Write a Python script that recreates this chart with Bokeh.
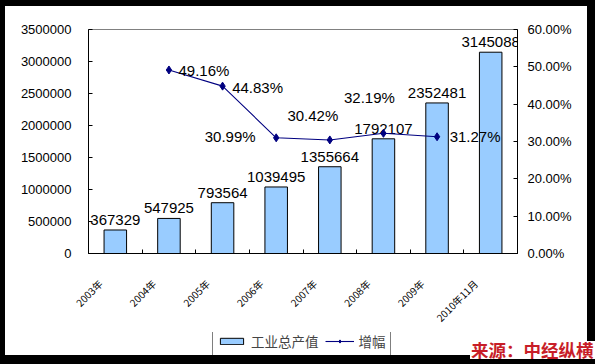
from bokeh.plotting import figure
from bokeh.layouts import column
from bokeh.models import (Range1d, LinearAxis, FixedTicker, PrintfTickFormatter,
                          Legend, LegendItem, Div, InlineStyleSheet)
from bokeh.core.properties import value
from bokeh.embed import file_html
from bokeh.resources import INLINE

# ---- data ----
categories = ["2003年", "2004年", "2005年", "2006年", "2007年", "2008年", "2009年", "2010年11月"]
output_value = [367329, 547925, 793564, 1039495, 1355664, 1792107, 2352481, 3145088]
growth_categories = ["2004年", "2005年", "2006年", "2007年", "2008年", "2009年"]
growth_pct = [49.16, 44.83, 30.99, 30.42, 32.19, 31.27]
left_ticks = [0, 500000, 1000000, 1500000, 2000000, 2500000, 3000000, 3500000]
right_ticks = [0, 10, 20, 30, 40, 50, 60]
series_names = ["工业总产值", "增幅"]
source_text = "来源：中经纵横"

# ---- styling / placement ----
pct_dx = [35, 35, -46, -17, -14, 38]
pct_dy = [1, 1, -1, -24, -36, 0]
label_shift = 0.28
FONT = "Liberation Sans"
CJK = "Noto Sans CJK SC"
BAR_FILL = "#99CCFF"
NAVY = "#000080"
W, H = 595, 364
BL, BR = 88, 78          # left / right borders (frame 88..517)
H_STRIP = 38

xpos = [categories.index(c) + 0.5 for c in categories]
gx = [categories.index(c) + 0.5 for c in growth_categories]

p = figure(frame_width=W - BL - BR, frame_height=224,
           min_border_left=BL, min_border_right=BR, min_border_top=29, min_border_bottom=73,
           x_range=Range1d(0, len(categories)), y_range=Range1d(left_ticks[0], left_ticks[-1]),
           output_backend="svg", toolbar_location=None, tools="")
p.extra_y_ranges = {"pct": Range1d(right_ticks[0], right_ticks[-1])}
p.background_fill_color = "white"
p.border_fill_color = "white"
p.outline_line_color = "#808080"
p.outline_line_width = 1
p.xgrid.visible = False
p.ygrid.visible = False
# black picture frame round the whole page
p.stylesheets = [InlineStyleSheet(css=(
    ":host::after { content: ''; position: absolute; left: 0; top: 0; "
    "width: %dpx; height: %dpx; box-sizing: border-box; pointer-events: none; "
    "border-style: solid; border-color: #000; border-width: 6px 8px 9px 5px; z-index: 10; }"
    % (W, H)))]

ya = p.yaxis[0]
ya.ticker = FixedTicker(ticks=left_ticks)
ya.formatter = PrintfTickFormatter(format="%d")
ya.axis_line_color = "black"
ya.major_tick_in = 4
ya.major_tick_out = 0
ya.minor_tick_line_color = None
ya.major_label_standoff = 17
ya.major_label_text_font = FONT
ya.major_label_text_font_size = "13px"
ya.major_label_text_color = "#000000"

ra = LinearAxis(y_range_name="pct", ticker=FixedTicker(ticks=right_ticks),
                formatter=PrintfTickFormatter(format="%.2f%%"))
ra.axis_line_color = "black"
ra.major_tick_in = 4
ra.major_tick_out = 0
ra.minor_tick_line_color = None
ra.major_label_standoff = 10
ra.major_label_text_font = FONT
ra.major_label_text_font_size = "13px"
ra.major_label_text_color = "#000000"
p.add_layout(ra, "right")

label_pos = [x - label_shift for x in xpos]
xa = p.xaxis[0]
xa.ticker = FixedTicker(ticks=label_pos, minor_ticks=list(range(len(categories) + 1)))
xa.major_label_overrides = {x: c for x, c in zip(label_pos, categories)}
xa.major_tick_line_color = None
xa.minor_tick_in = 4
xa.minor_tick_out = 0
xa.minor_tick_line_color = "black"
xa.axis_line_color = "black"
xa.major_label_orientation = 0.785398
xa.major_label_text_font = CJK
xa.major_label_text_font_size = "10px"
xa.major_label_text_color = "#000000"
xa.major_label_standoff = 22

p.vbar(x=xpos, top=output_value, width=0.42, fill_color=BAR_FILL,
       line_color="black", line_width=1)
p.text(x=xpos, y=output_value, text=[str(v) for v in output_value],
       text_align="center", text_baseline="alphabetic", y_offset=-10,
       text_font=value(FONT), text_font_size="15px", text_color="black")
p.line(x=gx, y=growth_pct, y_range_name="pct", line_color=NAVY, line_width=1.1)
p.scatter(x=gx, y=growth_pct, y_range_name="pct", marker="diamond", size=8,
          fill_color=NAVY, line_color=NAVY)
p.text(x=gx, y=growth_pct, y_range_name="pct", text=["%.2f%%" % g for g in growth_pct],
       x_offset=pct_dx, y_offset=pct_dy, text_align="center", text_baseline="middle",
       text_font=value(FONT), text_font_size="15px", text_color="black")

# ---- bottom strip: legend (data units = page pixels) ----
s = figure(frame_width=W - BL - BR, frame_height=H_STRIP,
           min_border_left=BL, min_border_right=BR, min_border_top=0, min_border_bottom=0,
           x_range=Range1d(BL, W - BR), y_range=Range1d(0, H_STRIP),
           x_axis_location=None, y_axis_location=None, output_backend="svg",
           toolbar_location=None, tools="")
s.outline_line_color = None
s.xgrid.visible = False
s.ygrid.visible = False
s.background_fill_color = "white"
s.border_fill_color = "white"

# legend swatch renderers (kept outside the visible range)
lb = s.vbar(x=[-1000], top=[-1000], width=1, fill_color=BAR_FILL, line_color="black", line_width=1)
ll = s.line(x=[-1000, -999], y=[-1000, -1000], line_color=NAVY, line_width=1.1)
lp = s.scatter(x=[-1000], y=[-1000], marker="diamond", size=8, fill_color=NAVY, line_color=NAVY)

legend = Legend(items=[LegendItem(label=series_names[0], renderers=[lb]),
                       LegendItem(label=series_names[1], renderers=[ll, lp])],
                orientation="horizontal", location=(212 - BL, 14),
                border_line_color="black", border_line_width=1,
                label_text_font=CJK, label_text_font_size="13.5px",
                glyph_width=29, glyph_height=8, padding=4, spacing=6,
                label_standoff=5, margin=0, label_height=14)
s.add_layout(legend)

# source note, placed over the lower-right corner of the picture frame
src = Div(text=source_text, styles={
    "position": "absolute", "left": "470px", "top": "341px", "margin": "0",
    "z-index": "20", "white-space": "nowrap", "line-height": "1",
    "font-family": CJK, "font-size": "17.5px", "font-weight": "bold",
    "color": "#C81E28", "background-color": "white", "padding": "0 1px",
})

layout = column(p, s, src, spacing=0)
open("out.html", "w").write(file_html(layout, INLINE))
